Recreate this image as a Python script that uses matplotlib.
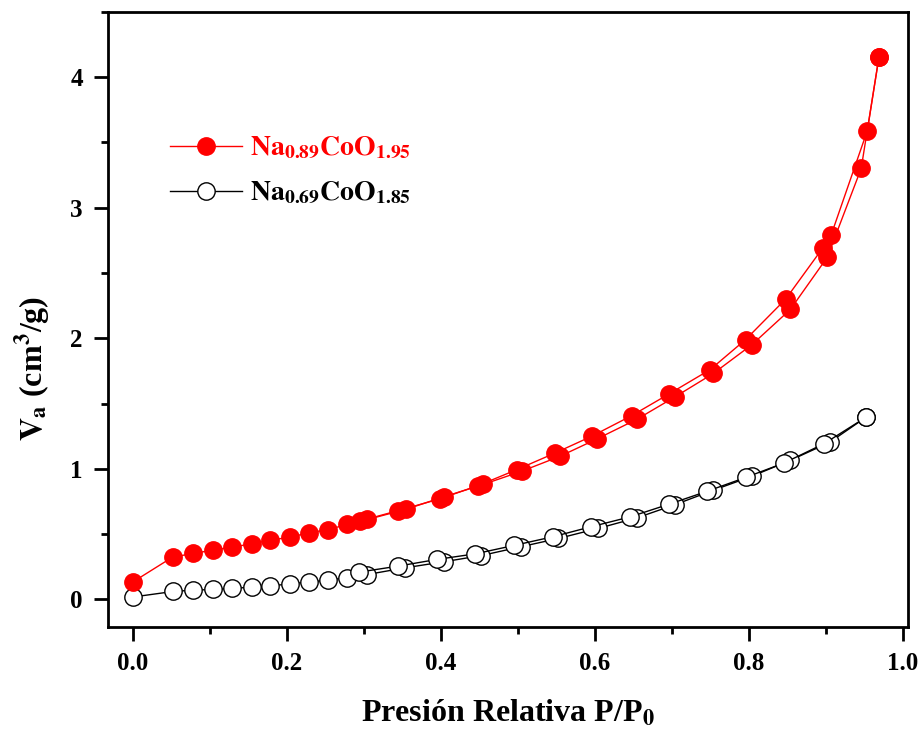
import matplotlib
matplotlib.use("Agg")
import matplotlib.pyplot as plt
from matplotlib.ticker import MultipleLocator

plt.rcParams['font.family'] = ['Liberation Serif', 'DejaVu Serif']
plt.rcParams['font.weight'] = 'bold'
plt.rcParams['mathtext.fontset'] = 'stix'

# ---- Na0.89CoO1.95 (rojo) ----
p_ads_1 = [0.0, 0.052, 0.079, 0.104, 0.129, 0.155, 0.179, 0.204, 0.229, 0.254, 0.279,
           0.305, 0.355, 0.404, 0.455, 0.505, 0.555, 0.603, 0.655, 0.704, 0.754,
           0.804, 0.854, 0.902, 0.946, 0.969]
v_ads_1 = [0.132, 0.324, 0.352, 0.377, 0.40, 0.426, 0.454, 0.476, 0.51, 0.535, 0.574,
           0.612, 0.69, 0.785, 0.88, 0.981, 1.096, 1.229, 1.38, 1.55, 1.73,
           1.95, 2.22, 2.62, 3.30, 4.15]
p_des_1 = [0.969, 0.954, 0.907, 0.896, 0.848, 0.796, 0.750, 0.697, 0.648, 0.596,
           0.549, 0.499, 0.449, 0.399, 0.345, 0.295]
v_des_1 = [4.15, 3.59, 2.79, 2.69, 2.30, 1.99, 1.76, 1.575, 1.407, 1.249,
           1.122, 0.994, 0.872, 0.77, 0.68, 0.60]

# ---- Na0.69CoO1.85 (negro) ----
p_ads_2 = [0.0, 0.053, 0.079, 0.104, 0.129, 0.155, 0.179, 0.204, 0.229, 0.254, 0.279,
           0.304, 0.354, 0.404, 0.453, 0.504, 0.553, 0.604, 0.655, 0.704, 0.754,
           0.804, 0.854, 0.905, 0.952]
v_ads_2 = [0.018, 0.061, 0.071, 0.076, 0.084, 0.094, 0.102, 0.12, 0.132, 0.148, 0.166,
           0.19, 0.242, 0.288, 0.336, 0.403, 0.467, 0.543, 0.625, 0.725, 0.836,
           0.943, 1.065, 1.203, 1.394]
p_des_2 = [0.952, 0.898, 0.846, 0.797, 0.746, 0.697, 0.646, 0.595, 0.546, 0.495,
           0.445, 0.395, 0.345, 0.294]
v_des_2 = [1.394, 1.193, 1.045, 0.936, 0.828, 0.73, 0.632, 0.556, 0.48, 0.413,
           0.349, 0.306, 0.255, 0.209]

etiqueta_1 = r'$\mathbf{Na_{0.89}CoO_{1.95}}$'
etiqueta_2 = r'$\mathbf{Na_{0.69}CoO_{1.85}}$'

fig = plt.figure(figsize=(9.22, 7.34), dpi=100)
ax = fig.add_axes([0.117, 0.146, 0.868, 0.838])

ms = 12.5
ax.plot(p_ads_2, v_ads_2, '-o', color='black', lw=1.0, ms=ms, mfc='white',
        mec='black', mew=1.0, label=etiqueta_2, zorder=2)
ax.plot(p_des_2, v_des_2, '-o', color='black', lw=1.0, ms=ms, mfc='white',
        mec='black', mew=1.0, zorder=2)
ax.plot(p_ads_1, v_ads_1, '-o', color='red', lw=1.0, ms=ms, mfc='red',
        mec='red', label=etiqueta_1, zorder=3)
ax.plot(p_des_1, v_des_1, '-o', color='red', lw=1.0, ms=ms, mfc='red',
        mec='red', zorder=3)

ax.set_xlim(-0.032, 1.007)
ax.set_ylim(-0.21, 4.5)
ax.xaxis.set_major_locator(MultipleLocator(0.2))
ax.xaxis.set_minor_locator(MultipleLocator(0.1))
ax.yaxis.set_major_locator(MultipleLocator(1))
ax.yaxis.set_minor_locator(MultipleLocator(0.5))
ax.xaxis.set_major_formatter(matplotlib.ticker.FormatStrFormatter('%.1f'))

for s in ax.spines.values():
    s.set_linewidth(2)
ax.tick_params(which='major', direction='out', length=10, width=2, labelsize=18, pad=8)
ax.tick_params(which='minor', direction='out', length=5, width=2)
for lab in ax.get_xticklabels() + ax.get_yticklabels():
    lab.set_fontweight('bold')

ax.set_xlabel(r'Presión Relativa P/P$_\mathbf{0}$', fontsize=23, fontweight='bold', labelpad=17)
ax.set_ylabel(r'$\mathbf{V_a}$ (cm$^\mathbf{3}$/g)', fontsize=23, fontweight='bold')
ax.yaxis.set_label_coords(-0.068, 0.42)

handles, labels = ax.get_legend_handles_labels()
leg = ax.legend(handles[::-1], labels[::-1], loc='upper left', bbox_to_anchor=(0.046, 0.84),
                frameon=False, fontsize=20, handlelength=2.6, handletextpad=0.3,
                labelspacing=0.68)
for txt, col in zip(leg.get_texts(), ['red', 'black']):
    txt.set_color(col)

fig.savefig('out.png', dpi=100)
